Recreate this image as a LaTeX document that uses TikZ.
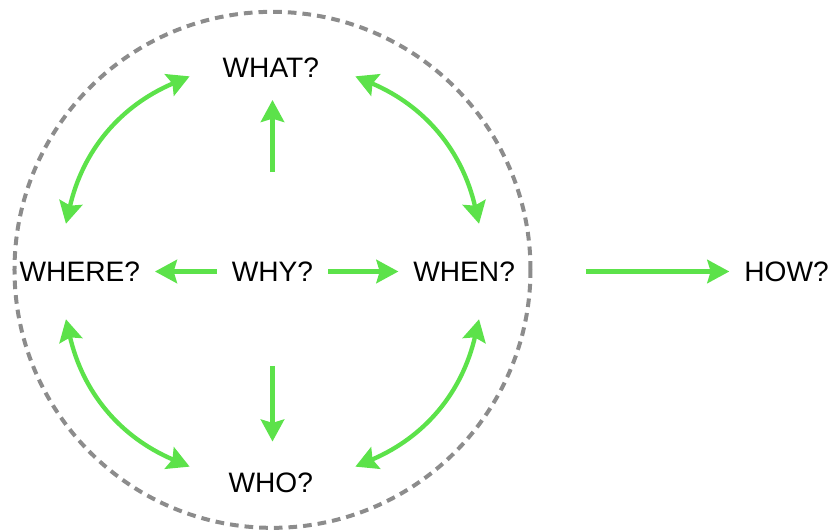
\documentclass[tikz,border=0pt]{standalone}
\usepackage{fontspec}
\setmainfont{Liberation Sans}
\usetikzlibrary{arrows.meta}
\definecolor{linkgreen}{RGB}{92,226,74}
\definecolor{ringgray}{RGB}{140,140,140}

\begin{document}
\begin{tikzpicture}[>=Stealth,font=\fontsize{24}{29}\selectfont,
 gtip/.tip={Stealth[length=0.66cm,width=0.7cm,inset=0.1cm]},
 q/.style={inner sep=0pt,outer sep=0.45cm},
 link/.style={draw=linkgreen,line width=0.13cm,-gtip},
 twoway/.style={draw=linkgreen,line width=0.13cm,gtip-gtip},
 ring/.style={draw=ringgray,line width=0.12cm,dash pattern=on 0.26cm off 0.18cm}]
\useasboundingbox (-8.175,-7.755) rectangle (16.695,8.145);
% centre and the four questions round it
\node[q] (why) at (0,0) {WHY?};
\node[q] (what) at (-0.05,6.1) {WHAT?};
\node[q] (where) at (-5.78,0) {WHERE?};
\node[q] (when) at (5.75,0) {WHEN?};
\node[q] (who) at (-0.05,-6.33) {WHO?};
\node[q] (how) at (15.42,0) {HOW?};
% dashed ring
\draw[ring] (why) ++(0,0.05) circle[radius=7.74];
% ends of the curved links
\coordinate (whatL) at (113:6.36);
\coordinate (whereT) at (167:6.36);
\coordinate (whereB) at (193:6.36);
\coordinate (whoL) at (247:6.36);
\coordinate (whoR) at (293:6.36);
\coordinate (whenB) at (347:6.36);
\coordinate (whenT) at (13:6.36);
\coordinate (whatR) at (67:6.36);
\draw[twoway] (whatL) to[bend right=27] (whereT);
\draw[twoway] (whereB) to[bend right=27] (whoL);
\draw[twoway] (whoR) to[bend right=27] (whenB);
\draw[twoway] (whenT) to[bend right=27] (whatR);
% straight links out of WHY?
\draw[link,shorten <=2.24cm,shorten >=0.21cm] (why.north) -- (why.north |- what.south);
\draw[link] (why) -- (where);
\draw[link] (why) -- (when);
\draw[link,shorten <=2.09cm,shorten >=0.48cm] (why.south) -- (why.south |- who.north);
\draw[link,shorten <=1.68cm] (when) -- (how);
\end{tikzpicture}
\end{document}
